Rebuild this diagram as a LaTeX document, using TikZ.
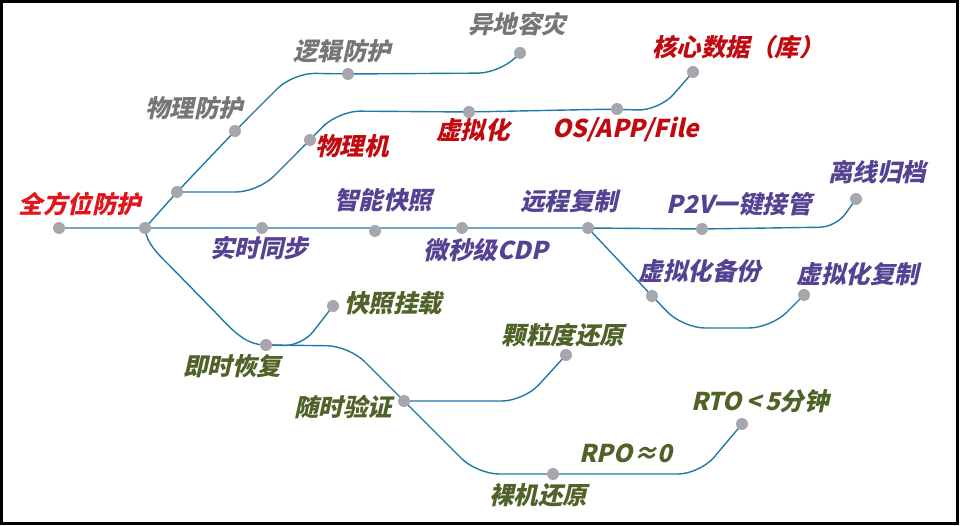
\documentclass[tikz,border=0pt]{standalone}
\usepackage{fontspec}
\usetikzlibrary{backgrounds}
\newfontfamily\cjkfont[FakeSlant=0.22]{Noto Sans CJK SC Black}
\definecolor{lineblue}{RGB}{32,122,166}
\definecolor{dotgray}{RGB}{166,166,172}
\definecolor{brightred}{RGB}{226,20,28}
\definecolor{darkred}{RGB}{192,10,16}
\definecolor{labelgray}{RGB}{118,118,118}
\definecolor{labelpurple}{RGB}{84,66,146}
\definecolor{labelgreen}{RGB}{79,98,40}
\begin{document}
\begin{tikzpicture}[
    x=1pt, y=-1pt,
    dot/.style={circle, fill=dotgray, minimum size=12pt, inner sep=0pt},
    lbl/.style={inner sep=0pt, font=\cjkfont\fontsize{24.5}{24.5}\selectfont},
    track/.style={draw=lineblue, line width=1.4pt, rounded corners=22pt}
]
\useasboundingbox (0,0) rectangle (962,526);
\draw[line width=3pt] (1.5,1.5) rectangle (957.5,523.5);

% Main line
\node[dot] (start) at (59,228) {};
\node[dot] (br) at (145,228) {};
\node[dot] (sync) at (262,228) {};
\node[dot] (snap) at (375,231) {};
\node[dot] (cdp) at (462,228) {};
\node[dot] (remote) at (588,228) {};
\node[dot] (p2v) at (702,229) {};
\node[dot] (offline) at (856,199) {};

% Protection branch
\node[dot] (split) at (177,192) {};
\node[dot] (physprot) at (235,131) {};
\node[dot] (logic) at (348,74) {};
\node[dot] (remotedr) at (520,53) {};
\node[dot] (physical) at (310,140) {};
\node[dot] (virtual) at (469,112) {};
\node[dot] (osapp) at (617,109) {};
\node[dot] (coredata) at (693,72) {};

% Recovery branch
\node[dot] (instant) at (266,345) {};
\node[dot] (mount) at (333,306) {};
\node[dot] (verify) at (404,401) {};
\node[dot] (granular) at (566,355) {};
\node[dot] (bare) at (553,474) {};
\node[dot] (rto) at (742,424) {};

% Virtualization branch
\node[dot] (vbackup) at (652,296) {};
\node[dot] (vrepl) at (804,295) {};

% Tracks
\begin{scope}[on background layer]
\draw[track, rounded corners=16pt] (start.center) -- (br.center) -- (sync.center) -- (cdp.center)
    -- (remote.center) -- (p2v.center) -- (836,227) -- (offline.center);
\draw[track] (br.center) -- (split.center) -- (physprot.center) -- (293,73)
    -- (logic.center) -- (500,73) -- (remotedr.center);
\draw[track] (split.center) -- (258,192) -- (physical.center) -- (338,111)
    -- (virtual.center) -- (osapp.center) -- (659,111) -- (coredata.center);
\draw[track, sharp corners] (br.center) .. controls (146,243) and (158,254) .. (170,266)
    -- (216,313) .. controls (234,332) and (246,345) .. (instant.center);
\draw[track] (instant.center) -- (349,346) -- (verify.center)
    -- (477,474) -- (bare.center) -- (700,474) -- (rto.center);
\draw[track, rounded corners=18pt] (instant.center) -- (302,346) -- (mount.center);
\draw[track] (verify.center) -- (524,401) -- (granular.center);
\draw[track] (remote.center) -- (vbackup.center) -- (683,328) -- (771,328) -- (vrepl.center);
\end{scope}

% Labels
\node[lbl, text=brightred] (l-all) at (80,204) {全方位防护};
\node[lbl, text=labelgray] (l-physprot) at (194,108) {物理防护};
\node[lbl, text=labelgray] (l-logic) at (342,51) {逻辑防护};
\node[lbl, text=labelgray] (l-remotedr) at (517,24) {异地容灾};
\node[lbl, text=darkred] (l-physical) at (352,146) {物理机};
\node[lbl, text=darkred] (l-virtual) at (473,130) {虚拟化};
\node[lbl, text=darkred] (l-osapp) at (626,130) {OS/APP/File};
\node[lbl, text=darkred] (l-coredata) at (738,47) {核心数据（库）};
\node[lbl, text=labelpurple] (l-snap) at (383,200) {智能快照};
\node[lbl, text=labelpurple] (l-sync) at (259,248) {实时同步};
\node[lbl, text=labelpurple] (l-cdp) at (486,250) {微秒级CDP};
\node[lbl, text=labelpurple] (l-remote) at (569,201) {远程复制};
\node[lbl, text=labelpurple] (l-p2v) at (739,204) {P2V一键接管};
\node[lbl, text=labelpurple] (l-offline) at (877,172) {离线归档};
\node[lbl, text=labelpurple] (l-vbackup) at (700,271) {虚拟化备份};
\node[lbl, text=labelpurple] (l-vrepl) at (858,274) {虚拟化复制};
\node[lbl, text=labelgreen] (l-mount) at (393,303) {快照挂载};
\node[lbl, text=labelgreen] (l-instant) at (232,366) {即时恢复};
\node[lbl, text=labelgreen] (l-verify) at (343,407) {随时验证};
\node[lbl, text=labelgreen] (l-granular) at (563,335) {颗粒度还原};
\node[lbl, text=labelgreen] (l-rto) at (760,401) {RTO\,<\,5分钟};
\node[lbl, text=labelgreen] (l-rpo) at (626,453) {RPO≈0};
\node[lbl, text=labelgreen] (l-bare) at (538,495) {裸机还原};

\end{tikzpicture}
\end{document}
